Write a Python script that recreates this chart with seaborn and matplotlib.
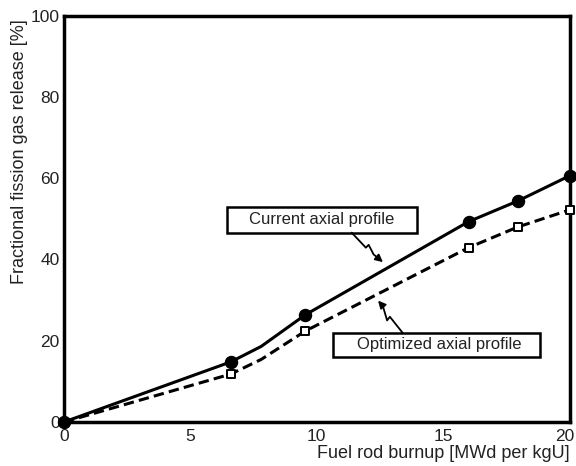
import matplotlib
matplotlib.use("Agg")
import matplotlib.pyplot as plt
import matplotlib.transforms as mtransforms
from matplotlib.patches import Rectangle
import seaborn as sns
import pandas as pd
import numpy as np

# Data
burnup_marked = [0.0, 6.6, 9.55, 16.0, 17.95, 20.0]
current_marked = [0.0, 14.8, 26.4, 49.3, 54.4, 60.6]
optimized_marked = [0.0, 11.8, 22.4, 42.9, 48.0, 52.2]

# curve shape (includes an unmarked bend point near 8 MWd/kgU)
burnup_curve = [0.0, 6.6, 7.8, 9.55, 16.0, 17.95, 20.0]
current_curve = [0.0, 14.8, 18.6, 26.4, 49.3, 54.4, 60.6]
optimized_curve = [0.0, 11.8, 15.4, 22.4, 42.9, 48.0, 52.2]

x_ticks = [0, 5, 10, 15, 20]
y_ticks = [0, 20, 40, 60, 80, 100]
y_minor = [10, 30, 50, 70, 90]

sns.set_theme(style="white")
plt.rcParams['font.family'] = ['Liberation Sans', 'DejaVu Sans']

fig = plt.figure(figsize=(5.76, 4.66), dpi=100)
ax = fig.add_axes([0.111, 0.0944, 0.878, 0.872])

curve_df = pd.DataFrame({
    "burnup": burnup_curve * 2,
    "release": current_curve + optimized_curve,
    "profile": ["Current"] * len(burnup_curve) + ["Optimized"] * len(burnup_curve),
})
sns.lineplot(data=curve_df, x="burnup", y="release", hue="profile", style="profile",
             palette={"Current": "black", "Optimized": "black"},
             dashes={"Current": "", "Optimized": (3.4, 1.7)},
             linewidth=2.2, legend=False, ax=ax, zorder=3)

sns.scatterplot(x=burnup_marked, y=current_marked, marker="o", s=75,
                color="black", edgecolor="black", linewidth=1, ax=ax, zorder=5,
                clip_on=False)
sns.scatterplot(x=burnup_marked[1:], y=optimized_marked[1:], marker="s", s=32,
                color="white", edgecolor="black", linewidth=1.4, ax=ax, zorder=5,
                clip_on=False)

ax.set_xlim(0, 20)
ax.set_ylim(0, 100)
ax.set_xticks(x_ticks)
ax.set_yticks(y_ticks)
ax.set_yticks(y_minor, minor=True)
ax.tick_params(axis="both", which="both", direction="in", width=2.5, length=14,
               color="black", labelsize=12.5, labelcolor="#222222")
ax.tick_params(axis="x", pad=5)
ax.tick_params(axis="y", pad=3)
for s in ax.spines.values():
    s.set_linewidth(2.5)
    s.set_color("black")

# nudge the last x tick label so it stays inside the figure
last = ax.get_xticklabels()[-1]
last.set_transform(last.get_transform() + mtransforms.ScaledTranslation(-5 / 100, 0, fig.dpi_scale_trans))

ax.set_ylabel("Fractional fission gas release [%]", fontsize=13, color="#222222")
ax.yaxis.set_label_coords(-0.071, 0.665)
ax.set_xlabel("Fuel rod burnup [MWd per kgU]", fontsize=13, color="#222222", loc="right", labelpad=1)

# annotation boxes
ax.add_patch(Rectangle((6.44, 46.6), 13.95 - 6.44, 53.0 - 46.6, fc="white", ec="black",
                       lw=1.8, zorder=6))
ax.text(10.2, 49.8, "Current axial profile", ha="center", va="center", fontsize=12,
        color="#222222", zorder=7)
ax.add_patch(Rectangle((10.63, 16.0), 18.81 - 10.63, 21.9 - 16.0, fc="white", ec="black",
                       lw=1.8, zorder=6))
ax.text(14.85, 19.0, "Optimized axial profile", ha="center", va="center", fontsize=12,
        color="#222222", zorder=7)

# lightning-style leader arrows
ax.plot([11.38, 11.94, 12.05, 12.25], [46.6, 42.9, 43.6, 41.2], color="black", lw=1.3, zorder=6)
ax.annotate("", xy=(12.7, 38.9), xytext=(12.2, 41.5),
            arrowprops=dict(arrowstyle="-|>", color="black", lw=1.3, mutation_scale=11), zorder=6)
ax.plot([13.4, 12.89, 12.78, 12.62], [21.9, 25.9, 25.0, 28.4], color="black", lw=1.3, zorder=6)
ax.annotate("", xy=(12.35, 30.4), xytext=(12.7, 27.9),
            arrowprops=dict(arrowstyle="-|>", color="black", lw=1.3, mutation_scale=11), zorder=6)

fig.savefig("out.png", dpi=100)
